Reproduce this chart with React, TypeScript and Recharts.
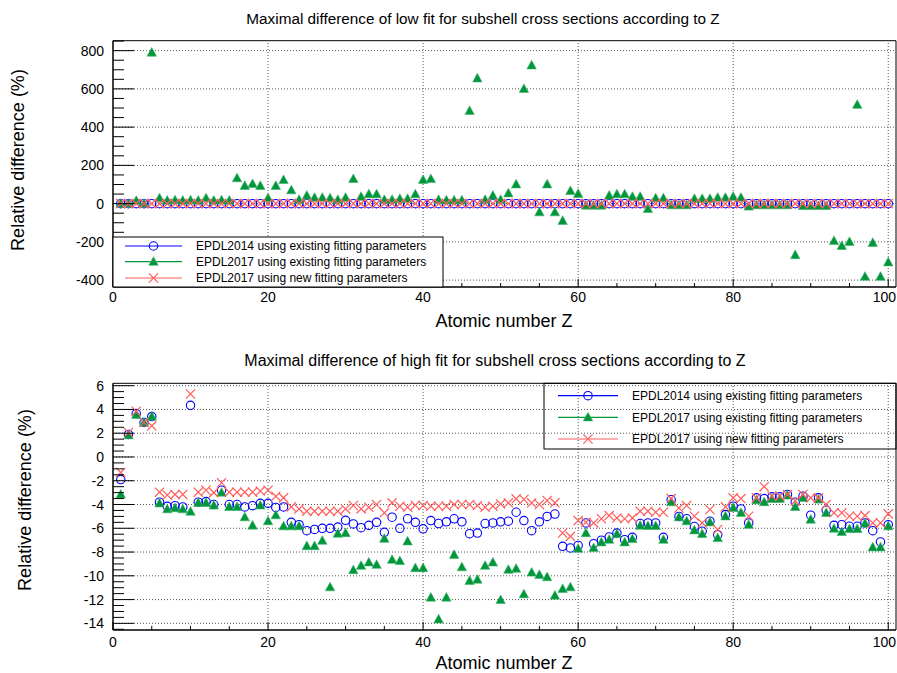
import React from 'react';
import { ScatterChart, Scatter, XAxis, YAxis, ReferenceLine, ReferenceArea } from 'recharts';

// ---------- data ----------
const atomicNumbers = [
  1, 2, 3, 4, 5, 6, 7, 8, 9, 10, 11, 12, 13, 14, 15, 16, 17, 18, 19, 20,
  21, 22, 23, 24, 25, 26, 27, 28, 29, 30, 31, 32, 33, 34, 35, 36, 37, 38, 39, 40,
  41, 42, 43, 44, 45, 46, 47, 48, 49, 50, 51, 52, 53, 54, 55, 56, 57, 58, 59, 60,
  61, 62, 63, 64, 65, 66, 67, 68, 69, 70, 71, 72, 73, 74, 75, 76, 77, 78, 79, 80,
  81, 82, 83, 84, 85, 86, 87, 88, 89, 90, 91, 92, 93, 94, 95, 96, 97, 98, 99, 100,
];

// low fit (top panel)
const lowEpdl2014Existing = [
  0, 0, 0, 0, 0, 0, 0, 0, 0, 0, 0, 0, 0, 0, 0, 0, 0, 0, 0, 0,
  0, 0, 0, 0, 0, 0, 0, 0, 0, 0, 0, 0, 0, 0, 0, 0, 0, 0, 0, 0,
  0, 0, 0, 0, 0, 0, 0, 0, 0, 0, 0, 0, 0, 0, 0, 0, 0, 0, 0, 0,
  0, 0, 0, 0, 0, 0, 0, 0, 0, 0, 0, 0, 0, 0, 0, 0, 0, 0, 0, 0,
  0, 0, 0, 0, 0, 0, 0, 0, 0, 0, 0, 0, 0, 0, 0, 0, 0, 0, 0, 0,
];
const lowEpdl2017Existing = [
  0, 0, 15, 0, 790, 28, 16, 18, 16, 18, 16, 28, 16, 18, 16, 133, 93, 103, 93, 28,
  93, 124, 70, 20, 42, 31, 31, 28, 20, 31, 129, 36, 49, 49, 20, 20, 25, 25, 49, 124,
  129, 20, 17, 17, 17, 485, 655, 20, 42, 20, 54, 101, 600, 723, -45, 101, -45, -90, 66, 51,
  -10, -10, -10, 42, 49, 49, 36, 36, -28, 28, 28, -8, -8, -8, 25, 25, 25, 31, 31, 36,
  31, -15, -8, -8, -8, -8, -8, -269, -12, -12, -12, -12, -195, -221, -200, 517, -382, -205, -382, -307,
];
const lowEpdl2017New = [
  0, 0, 0, 0, 0, 0, 0, 0, 0, 0, 0, 0, 0, 0, 0, 0, 0, 0, 0, 0,
  0, 0, 0, 0, 0, 0, 0, 0, 0, 0, 0, 0, 0, 0, 0, 0, 0, 0, 0, 0,
  0, 0, 0, 0, 0, 0, 0, 0, 0, 0, 0, 0, 0, 0, 0, 0, 0, 0, 0, 0,
  0, 0, 0, 0, 0, 0, 0, 0, 0, 0, 0, 0, 0, 0, 0, 0, 0, 0, 0, 0,
  0, 0, 0, 0, 0, 0, 0, 0, 0, 0, 0, 0, 0, 0, 0, 0, 0, 0, 0, 0,
];

// high fit (bottom panel)
const highEpdl2014Existing = [
  -1.9, 1.9, 3.65, 2.9, 3.4, -3.8, -4.15, -4.1, -4.2, 4.35, -3.8, -3.75, -4.0, -2.8, -4.0, -4.0, -4.2, -4.1, -3.9, -3.9,
  -4.25, -4.2, -5.5, -5.7, -6.2, -6.1, -6.0, -6.0, -5.9, -5.33, -5.63, -5.95, -5.75, -5.5, -6.34, -5.07, -6.0, -5.2, -5.5, -6.05,
  -5.35, -5.6, -5.46, -5.2, -5.46, -6.45, -6.4, -5.6, -5.55, -5.46, -5.4, -4.65, -5.35, -6.2, -5.46, -5.0, -4.8, -7.52, -7.66, -7.44,
  -5.55, -7.3, -7.0, -6.73, -6.4, -6.96, -6.76, -5.6, -5.55, -5.55, -6.76, -3.6, -5.0, -5.2, -5.85, -6.25, -5.4, -6.54, -4.85, -4.14,
  -4.37, -5.55, -3.44, -3.5, -3.35, -3.35, -3.15, -3.8, -3.3, -4.9, -3.44, -4.48, -5.75, -5.7, -5.83, -5.83, -5.55, -6.2, -7.15, -5.7,
];
const highEpdl2017Existing = [
  -3.15, 1.83, 3.55, 2.9, 3.4, -3.9, -4.4, -4.3, -4.4, -4.6, -3.86, -3.86, -4.08, -3.0, -4.2, -4.2, -5.07, -5.77, -4.08, -5.4,
  -4.9, -5.83, -5.83, -5.83, -7.5, -7.5, -7.04, -10.96, -6.45, -6.4, -9.52, -9.15, -8.87, -9.07, -6.88, -8.65, -8.75, -7.1, -9.35, -9.35,
  -11.83, -13.66, -11.83, -8.23, -9.27, -10.42, -10.32, -9.15, -8.87, -12.03, -9.49, -9.4, -11.55, -9.72, -9.92, -10.11, -11.66, -11.1, -10.96, -7.72,
  -6.4, -7.66, -7.18, -6.96, -6.48, -7.18, -6.9, -5.77, -5.8, -5.8, -6.96, -3.8, -5.07, -5.4, -6.17, -6.48, -5.49, -6.82, -4.99, -4.28,
  -4.7, -5.7, -3.63, -3.8, -3.52, -3.52, -3.24, -4.2, -3.44, -5.27, -3.58, -4.7, -6.03, -6.31, -6.06, -6.06, -5.6, -7.6, -7.6, -5.83,
];
const highEpdl2017New = [
  -1.3, 2.06, 3.85, 2.9, 2.62, -2.96, -3.2, -3.15, -3.15, 5.3, -2.96, -2.8, -3.0, -2.17, -2.96, -2.96, -2.96, -2.96, -2.87, -2.8,
  -3.3, -3.44, -4.2, -4.37, -4.56, -4.56, -4.56, -4.56, -4.56, -4.37, -4.08, -4.37, -4.23, -4.0, -4.7, -3.86, -4.14, -4.23, -4.06, -4.08,
  -4.14, -4.14, -4.14, -4.0, -4.0, -4.0, -4.08, -4.23, -4.14, -3.95, -3.86, -3.52, -3.58, -3.86, -4.0, -3.66, -3.86, -6.4, -6.68, -5.35,
  -5.5, -5.55, -5.2, -4.93, -5.13, -5.2, -5.13, -4.56, -4.56, -4.65, -4.65, -3.5, -4.3, -4.08, -4.99, -5.55, -4.42, -6.1, -4.2, -3.44,
  -3.5, -4.99, -3.44, -2.5, -3.3, -3.3, -3.15, -3.7, -3.15, -3.44, -3.44, -4.0, -4.7, -4.7, -4.99, -4.99, -4.93, -5.55, -5.55, -4.79,
];

// ticks
const xMajorTicks = [0, 20, 40, 60, 80, 100];
const xMinorTicks = [0, 5, 10, 15, 20, 25, 30, 35, 40, 45, 50, 55, 60, 65, 70, 75, 80, 85, 90, 95, 100];
const lowYMajorTicks = [-400, -200, 0, 200, 400, 600, 800];
const lowYMinorTicks = [-400, -350, -300, -250, -200, -150, -100, -50, 0, 50, 100, 150, 200, 250, 300, 350, 400, 450, 500, 550, 600, 650, 700, 750, 800, 850];
const highYMajorTicks = [-14, -12, -10, -8, -6, -4, -2, 0, 2, 4, 6];
const highYMinorTicks = [
  -14.5, -14, -13.5, -13, -12.5, -12, -11.5, -11, -10.5, -10, -9.5, -9, -8.5, -8, -7.5, -7, -6.5, -6, -5.5, -5, -4.5,
  -4, -3.5, -3, -2.5, -2, -1.5, -1, -0.5, 0, 0.5, 1, 1.5, 2, 2.5, 3, 3.5, 4, 4.5, 5, 5.5, 6,
];

const seriesNames = [
  'EPDL2014 using existing fitting parameters',
  'EPDL2017 using existing fitting parameters',
  'EPDL2017 using new fitting parameters',
];

const titleLow = 'Maximal difference of low fit for subshell cross sections according to Z';
const titleHigh = 'Maximal difference of high fit for subshell cross sections according to Z';
const xTitle = 'Atomic number Z';
const yTitle = 'Relative difference (%)';

// ---------- styles ----------
const FONT = '"Liberation Sans", Arial, Helvetica, sans-serif';
const BLUE = '#0000ff';
const GREEN = '#00963c';
const GREEN_EDGE = '#3fb36a';
const RED = '#ff5c5c';

const X_DOMAIN: [number, number] = [0, 101];
const LOW_DOMAIN: [number, number] = [-436, 852];
const HIGH_DOMAIN: [number, number] = [-14.56, 6.2];

const toPoints = (vals: number[]) => atomicNumbers.map((z, i) => ({ x: z, y: vals[i] }));

// ---------- markers ----------
const CircleMarker = (p: any) =>
  p.cx == null ? <g /> : <circle cx={p.cx} cy={p.cy} r={4.2} fill="none" stroke={BLUE} strokeWidth={1.1} />;
const TriangleMarker = (p: any) =>
  p.cx == null ? <g /> : (
    <polygon
      points={`${p.cx},${p.cy - 5} ${p.cx - 4.7},${p.cy + 3.6} ${p.cx + 4.7},${p.cy + 3.6}`}
      fill={GREEN}
      stroke={GREEN_EDGE}
      strokeWidth={0.6}
    />
  );
const CrossMarker = (p: any) =>
  p.cx == null ? <g /> : (
    <path
      d={`M${p.cx - 4.6},${p.cy - 4.6}L${p.cx + 4.6},${p.cy + 4.6}M${p.cx - 4.6},${p.cy + 4.6}L${p.cx + 4.6},${p.cy - 4.6}`}
      stroke={RED}
      strokeWidth={1.2}
      fill="none"
    />
  );

const isIn = (arr: number[], v: number) => arr.some((m) => Math.abs(m - v) < 1e-9);

const makeYTick = (majors: number[]) => (props: any) => {
  const { x, y, payload } = props;
  const v = payload.value;
  const major = isIn(majors, v);
  return (
    <g>
      <line x1={x} x2={x + (major ? 21 : 11)} y1={y} y2={y} stroke="#000" strokeWidth={1} />
      {major && (
        <text x={x - 9} y={y + 5} textAnchor="end" fontSize={14} fill="#000" fontFamily={FONT}>
          {String(v)}
        </text>
      )}
    </g>
  );
};

const makeXTick = (labelDy: number) => (props: any) => {
  const { x, y, payload } = props;
  const v = payload.value;
  const major = isIn(xMajorTicks, v);
  const atEdge = x + 12 > 896;
  return (
    <g>
      <line x1={x} x2={x} y1={y} y2={y - (major ? 8 : 4)} stroke="#000" strokeWidth={1} />
      {major && (
        <text
          x={atEdge ? 896 : x}
          y={y + labelDy}
          textAnchor={atEdge ? 'end' : 'middle'}
          fontSize={14}
          fill="#000"
          fontFamily={FONT}
        >
          {String(v)}
        </text>
      )}
    </g>
  );
};

const gridStyle = { stroke: '#555', strokeDasharray: '1 2', strokeWidth: 1 };

type PanelProps = {
  height: number;
  marginTop: number;
  marginBottom: number;
  yDomain: [number, number];
  yMinor: number[];
  yMajor: number[];
  xLabelDy: number;
  blue: number[];
  green: number[];
  red: number[];
};

const Panel = (p: PanelProps) => (
  <ScatterChart
    width={897}
    height={p.height}
    margin={{ top: p.marginTop, right: 1, left: 53, bottom: p.marginBottom }}
  >
    {xMajorTicks.slice(1).map((t) => (
      <ReferenceLine key={'vx' + t} x={t} {...gridStyle} />
    ))}
    {p.yMajor.map((t) => (
      <ReferenceLine key={'hy' + t} y={t} {...gridStyle} />
    ))}
    <XAxis
      type="number"
      dataKey="x"
      domain={X_DOMAIN}
      allowDataOverflow
      ticks={xMinorTicks}
      interval={0}
      tickSize={0}
      tickMargin={0}
      tickLine={false}
      axisLine={{ stroke: '#000' }}
      tick={makeXTick(p.xLabelDy)}
      height={30}
    />
    <YAxis
      type="number"
      dataKey="y"
      domain={p.yDomain}
      allowDataOverflow
      ticks={p.yMinor}
      interval={0}
      tickSize={0}
      tickMargin={0}
      tickLine={false}
      axisLine={{ stroke: '#000' }}
      tick={makeYTick(p.yMajor)}
      width={60}
    />
    <Scatter data={toPoints(p.blue)} shape={CircleMarker} isAnimationActive={false} />
    <Scatter data={toPoints(p.green)} shape={TriangleMarker} isAnimationActive={false} />
    <Scatter data={toPoints(p.red)} shape={CrossMarker} isAnimationActive={false} />
    <ReferenceArea
      x1={X_DOMAIN[0]}
      x2={X_DOMAIN[1]}
      y1={p.yDomain[0]}
      y2={p.yDomain[1]}
      fill="none"
      fillOpacity={0}
      stroke="#000"
      strokeWidth={1}
      strokeOpacity={1}
    />
  </ScatterChart>
);

const LegendBox = (props: {
  x: number;
  y: number;
  w: number;
  h: number;
  rows: number[];
  lineX1: number;
  lineX2: number;
  textX: number;
  fill: string;
}) => {
  const { x, y, w, h, rows, lineX1, lineX2, textX, fill } = props;
  const mx = (lineX1 + lineX2) / 2;
  const colors = [BLUE, GREEN, RED];
  const markers = [CircleMarker, TriangleMarker, CrossMarker];
  return (
    <g>
      <rect x={x} y={y} width={w} height={h} fill={fill} stroke="#000" strokeWidth={1} />
      {rows.map((ry, i) => {
        const M = markers[i];
        return (
          <g key={i}>
            <line x1={lineX1} x2={lineX2} y1={ry} y2={ry} stroke={colors[i]} strokeWidth={1.2} />
            <M cx={mx} cy={ry} />
            <text x={textX} y={ry + 4.3} fontSize={12} fill="#000" fontFamily={FONT}>
              {seriesNames[i]}
            </text>
          </g>
        );
      })}
    </g>
  );
};

export default function App() {
  return (
    <div
      style={{
        position: 'absolute',
        left: 0,
        top: 0,
        width: 897,
        height: 673,
        background: '#fff',
        fontFamily: FONT,
        overflow: 'hidden',
      }}
    >
      <div style={{ position: 'absolute', left: 0, top: 0 }}>
        <Panel
          height={340}
          marginTop={40.7}
          marginBottom={23}
          yDomain={LOW_DOMAIN}
          yMinor={lowYMinorTicks}
          yMajor={lowYMajorTicks}
          xLabelDy={15}
          blue={lowEpdl2014Existing}
          green={lowEpdl2017Existing}
          red={lowEpdl2017New}
        />
      </div>
      <div style={{ position: 'absolute', left: 0, top: 340 }}>
        <Panel
          height={333}
          marginTop={43.3}
          marginBottom={13}
          yDomain={HIGH_DOMAIN}
          yMinor={highYMinorTicks}
          yMajor={highYMajorTicks}
          xLabelDy={17}
          blue={highEpdl2014Existing}
          green={highEpdl2017Existing}
          red={highEpdl2017New}
        />
      </div>
      <svg
        width={897}
        height={673}
        style={{ position: 'absolute', left: 0, top: 0, pointerEvents: 'none' }}
      >
        <text x={483} y={23.5} textAnchor="middle" fontSize={15.3} fill="#000" fontFamily={FONT}>
          {titleLow}
        </text>
        <text x={495} y={365.5} textAnchor="middle" fontSize={16} fill="#000" fontFamily={FONT}>
          {titleHigh}
        </text>
        <text x={504} y={327} textAnchor="middle" fontSize={18} fill="#000" fontFamily={FONT}>
          {xTitle}
        </text>
        <text x={504} y={669} textAnchor="middle" fontSize={18} fill="#000" fontFamily={FONT}>
          {xTitle}
        </text>
        <text transform="translate(24,160) rotate(-90)" textAnchor="middle" fontSize={18} fill="#000" fontFamily={FONT}>
          {yTitle}
        </text>
        <text transform="translate(31,500) rotate(-90)" textAnchor="middle" fontSize={18} fill="#000" fontFamily={FONT}>
          {yTitle}
        </text>
        <LegendBox
          x={113}
          y={237}
          w={330}
          h={50}
          rows={[246, 261.7, 278]}
          lineX1={125}
          lineX2={182}
          textX={196}
          fill="#fff"
        />
        <LegendBox
          x={544}
          y={383.3}
          w={352}
          h={65.7}
          rows={[395.7, 417.3, 439]}
          lineX1={558}
          lineX2={618}
          textX={632}
          fill="none"
        />
      </svg>
    </div>
  );
}
